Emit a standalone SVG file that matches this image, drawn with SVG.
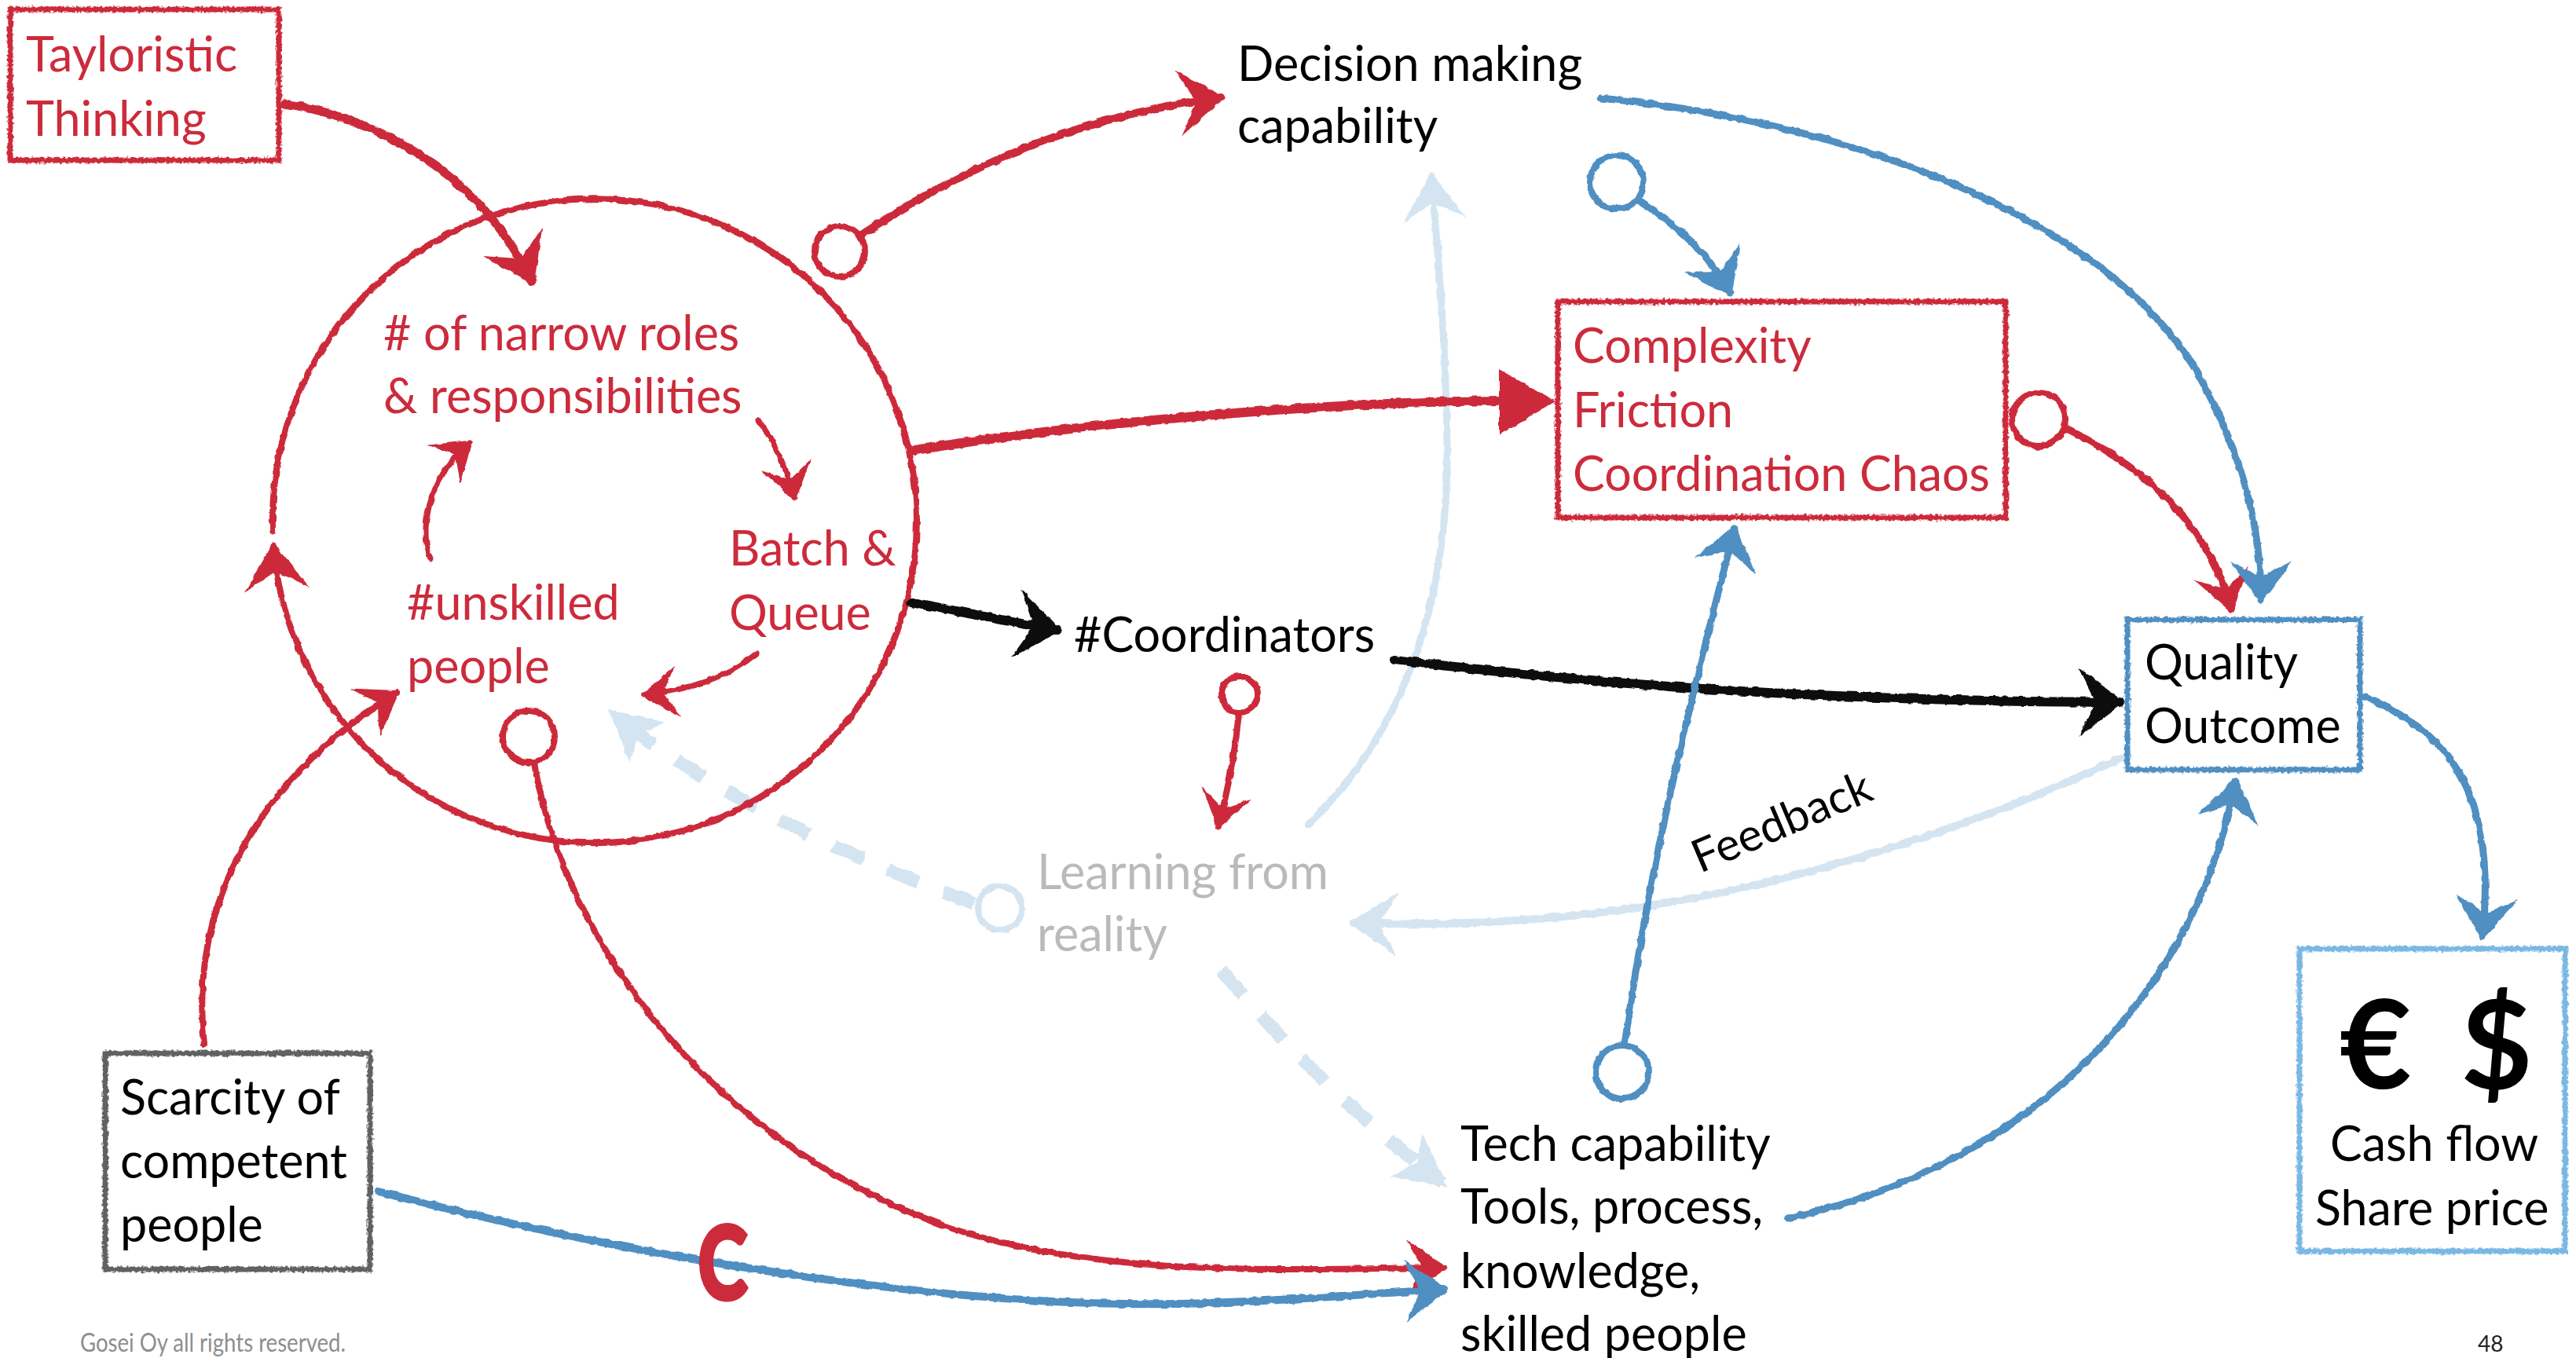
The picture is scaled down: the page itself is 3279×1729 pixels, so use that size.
<svg xmlns="http://www.w3.org/2000/svg" width="3279" height="1729" viewBox="0 0 3279 1729">
  <style>
    text { font-family: Lato, "Open Sans", "Liberation Sans", sans-serif; font-size: 61px; }
    .red { fill: #cc2b3b; }
    .blk { fill: #000000; }
    .gry { fill: #bababa; }
    .box { fill: none; stroke-width: 7; }
    .ln { fill: none; stroke-linecap: round; stroke-linejoin: round; }
    .r { stroke: #cc2b3b; }
    .b { stroke: #508fc2; }
    .k { stroke: #111111; }
    .p { stroke: #d4e5f1; }
    .ring { fill: none; stroke-width: 8; }
    .dash { fill: none; stroke: #d4e5f1; stroke-width: 17; stroke-dasharray: 42 34; stroke-linecap: butt; }
  </style>
  <defs>
    <filter id="rough" filterUnits="userSpaceOnUse" x="0" y="0" width="3279" height="1729">
      <feTurbulence type="fractalNoise" baseFrequency="0.09" numOctaves="2" seed="4" result="n"/>
      <feDisplacementMap in="SourceGraphic" in2="n" scale="5" xChannelSelector="R" yChannelSelector="G"/>
    </filter>
    <filter id="edge" filterUnits="userSpaceOnUse" x="0" y="0" width="3279" height="1729">
      <feTurbulence type="fractalNoise" baseFrequency="0.25" numOctaves="2" seed="9" result="n"/>
      <feDisplacementMap in="SourceGraphic" in2="n" scale="6" xChannelSelector="R" yChannelSelector="G"/>
    </filter>
    <marker id="mRL" markerUnits="userSpaceOnUse" markerWidth="1" markerHeight="1" refX="0" refY="0" orient="auto" overflow="visible">
      <path d="M6,0 L-56,-42 L-32,0 L-56,42 Z" fill="#cc2b3b"/>
    </marker>
    <marker id="mRM" markerUnits="userSpaceOnUse" markerWidth="1" markerHeight="1" refX="0" refY="0" orient="auto" overflow="visible">
      <path d="M5,0 L-48,-36 L-27,0 L-48,36 Z" fill="#cc2b3b"/>
    </marker>
    <marker id="mRS" markerUnits="userSpaceOnUse" markerWidth="1" markerHeight="1" refX="0" refY="0" orient="auto" overflow="visible">
      <path d="M4,0 L-44,-33 L-24,0 L-44,33 Z" fill="#cc2b3b"/>
    </marker>
    <marker id="mBL" markerUnits="userSpaceOnUse" markerWidth="1" markerHeight="1" refX="0" refY="0" orient="auto" overflow="visible">
      <path d="M5,0 L-50,-40 L-30,0 L-50,40 Z" fill="#508fc2"/>
    </marker>
    <marker id="mKL" markerUnits="userSpaceOnUse" markerWidth="1" markerHeight="1" refX="0" refY="0" orient="auto" overflow="visible">
      <path d="M6,0 L-52,-44 L-30,0 L-52,44 Z" fill="#111111"/>
    </marker>
    <marker id="mPL" markerUnits="userSpaceOnUse" markerWidth="1" markerHeight="1" refX="0" refY="0" orient="auto" overflow="visible">
      <path d="M5,0 L-56,-40 L-34,0 L-56,40 Z" fill="#d4e5f1"/>
    </marker>
    <marker id="mPD" markerUnits="userSpaceOnUse" markerWidth="1" markerHeight="1" refX="0" refY="0" orient="auto" overflow="visible">
      <path d="M8,0 L-58,-34 L-42,0 L-58,34 Z" fill="#d4e5f1"/>
    </marker>
  </defs>

  <rect width="3279" height="1729" fill="#ffffff"/>

  <!-- connectors -->
  <g id="connectors" filter="url(#rough)">
    <!-- pale learning links -->
    <path class="ln p" stroke-width="9" d="M1665,1050 C1790,930 1845,760 1842,560 C1840,420 1828,300 1822,224" marker-end="url(#mPL)"/>
    <path class="ln p" stroke-width="10" d="M2706,962 C2500,1060 2250,1140 2000,1166 C1900,1176 1800,1178 1722,1175" marker-end="url(#mPL)"/>
    <path class="dash" d="M1240,1150 C1100,1100 900,1010 780,908" marker-end="url(#mPD)"/>
    <circle class="ring" cx="1273" cy="1156" r="28" stroke="#d4e5f1" stroke-width="13"/>
    <path class="dash" d="M1555,1235 C1650,1350 1750,1440 1836,1506" marker-end="url(#mPD)"/>

    <!-- reinforcing loop -->
    <path class="ln r" stroke-width="8" d="M347.1,675.7 A410,410 0 1 1 348.2,695.7" marker-end="url(#mRL)"/>
    <path class="ln r" stroke-width="7" d="M965,535 C985,560 1003,600 1011,634" marker-end="url(#mRS)"/>
    <path class="ln r" stroke-width="7" d="M963,832 C930,860 880,878 820,885" marker-end="url(#mRS)"/>
    <path class="ln r" stroke-width="7" d="M548,712 C530,660 555,600 598,563" marker-end="url(#mRS)"/>

    <!-- red links -->
    <path class="ln r" stroke-width="11" d="M362,132 C480,150 610,220 677,358" marker-end="url(#mRL)"/>
    <circle class="ring r" cx="1069" cy="320" r="32"/>
    <path class="ln r" stroke-width="10" d="M1095,300 C1200,230 1350,150 1555,124" marker-end="url(#mRL)"/>
    <path class="ln r" stroke-width="12" d="M1165,573 C1400,535 1700,512 1912,510"/>
    <path d="M1908,470 L1980,511 L1908,554 Z" fill="#cc2b3b"/>
    <circle class="ring r" cx="1578" cy="884" r="23" stroke-width="9"/>
    <path class="ln r" stroke-width="8" d="M1577,908 C1572,960 1562,1010 1551,1052" marker-end="url(#mRS)"/>
    <circle class="ring r" cx="673" cy="938" r="33"/>
    <path class="ln r" stroke-width="8" d="M680,972 C720,1200 900,1450 1200,1560 C1400,1630 1650,1615 1838,1614" marker-end="url(#mRM)"/>
    <path class="ln r" stroke-width="8" d="M260,1330 C240,1150 330,990 505,882" marker-end="url(#mRM)"/>
    <circle class="ring r" cx="2595" cy="534" r="34"/>
    <path class="ln r" stroke-width="9" d="M2629,545 C2720,590 2810,660 2840,776" marker-end="url(#mRM)"/>

    <!-- black links -->
    <path class="ln k" stroke-width="12" d="M1160,767 C1230,780 1300,795 1345,802" marker-end="url(#mKL)"/>
    <path class="ln k" stroke-width="12" d="M1775,840 C2100,880 2400,893 2698,894" marker-end="url(#mKL)"/>

    <!-- blue links -->
    <circle class="ring b" cx="2065" cy="1365" r="34"/>
    <path class="ln b" stroke-width="9" d="M2068,1330 C2100,1100 2150,900 2208,672" marker-end="url(#mBL)"/>
    <circle class="ring b" cx="2058" cy="232" r="34"/>
    <path class="ln b" stroke-width="9" d="M2085,255 C2140,290 2180,330 2202,373" marker-end="url(#mBL)"/>
    <path class="ln b" stroke-width="9" d="M2038,125 C2400,160 2700,300 2800,480 C2860,590 2878,680 2878,764" marker-end="url(#mBL)"/>
    <path class="ln b" stroke-width="9" d="M3010,887 C3110,930 3180,1000 3160,1192" marker-end="url(#mBL)"/>
    <path class="ln b" stroke-width="9" d="M2276,1551 C2600,1480 2800,1250 2845,995" marker-end="url(#mBL)"/>
    <path class="ln b" stroke-width="10" d="M482,1517 C800,1600 1200,1665 1500,1660 C1650,1657 1760,1645 1838,1642" marker-end="url(#mBL)"/>
  </g>

  <!-- delay mark on the scarcity link -->
  <text class="red" transform="translate(889,1653) scale(0.74,1)" x="0" y="0" stroke="#cc2b3b" stroke-width="7" style="font-size:126px;font-weight:700">C</text>

  <!-- nodes -->
  <g id="taylorism">
    <rect class="box" x="13" y="12" width="342" height="192" stroke="#cc2b3b" filter="url(#edge)"/>
    <text class="red" x="33" y="91">Tayloristic</text>
    <text class="red" x="33" y="173">Thinking</text>
  </g>

  <g id="narrow-roles">
    <text class="red" x="488" y="446"># of narrow roles</text>
    <text class="red" x="488" y="526">&amp; responsibilities</text>
  </g>

  <g id="batch-queue">
    <text class="red" x="928" y="720">Batch &amp;</text>
    <text class="red" x="928" y="802">Queue</text>
  </g>

  <g id="unskilled">
    <text class="red" x="518" y="789">#unskilled</text>
    <text class="red" x="518" y="870">people</text>
  </g>

  <g id="decision-making">
    <text class="blk" x="1575" y="103">Decision making</text>
    <text class="blk" x="1575" y="182">capability</text>
  </g>

  <g id="complexity">
    <rect class="box" x="1983" y="384" width="570" height="275" stroke="#cc2b3b" filter="url(#edge)"/>
    <text class="red" x="2002" y="462">Complexity</text>
    <text class="red" x="2002" y="544">Friction</text>
    <text class="red" x="2002" y="625">Coordination Chaos</text>
  </g>

  <g id="coordinators">
    <text class="blk" x="1367" y="830">#Coordinators</text>
  </g>

  <g id="quality">
    <rect class="box" x="2708" y="789" width="296" height="191" stroke="#508fc2" filter="url(#edge)"/>
    <text class="blk" x="2730" y="865">Quality</text>
    <text class="blk" x="2730" y="946">Outcome</text>
  </g>

  <g id="learning">
    <text class="gry" x="1320" y="1132">Learning from</text>
    <text class="gry" x="1320" y="1211">reality</text>
  </g>

  <g id="feedback-label">
    <text class="blk" transform="translate(2164,1112) rotate(-23)" style="font-size:58px">Feedback</text>
  </g>

  <g id="scarcity">
    <rect class="box" x="134" y="1341" width="337" height="275" stroke="#606165" filter="url(#edge)"/>
    <text class="blk" x="153" y="1419">Scarcity of</text>
    <text class="blk" x="153" y="1500">competent</text>
    <text class="blk" x="153" y="1581">people</text>
  </g>

  <g id="tech-capability">
    <text class="blk" x="1859" y="1478">Tech capability</text>
    <text class="blk" x="1859" y="1558">Tools, process,</text>
    <text class="blk" x="1859" y="1640">knowledge,</text>
    <text class="blk" x="1859" y="1720">skilled people</text>
  </g>

  <g id="cash-flow">
    <rect class="box" x="2927" y="1208" width="338" height="385" stroke="#7ab8e4" filter="url(#edge)"/>
    <text class="blk" x="2978" y="1386" style="font-size:158px;font-weight:700">€</text>
    <text class="blk" x="3132" y="1386" style="font-size:158px;font-weight:700">$</text>
    <text class="blk" x="2966" y="1478">Cash flow</text>
    <text class="blk" x="2947" y="1560">Share price</text>
  </g>

  <!-- footer -->
  <text x="102" y="1721" fill="#8e8e8e" style="font-size:32px" textLength="338" lengthAdjust="spacingAndGlyphs">Gosei Oy all rights reserved.</text>
  <text x="3154" y="1721" fill="#222222" style="font-size:28px">48</text>
</svg>
